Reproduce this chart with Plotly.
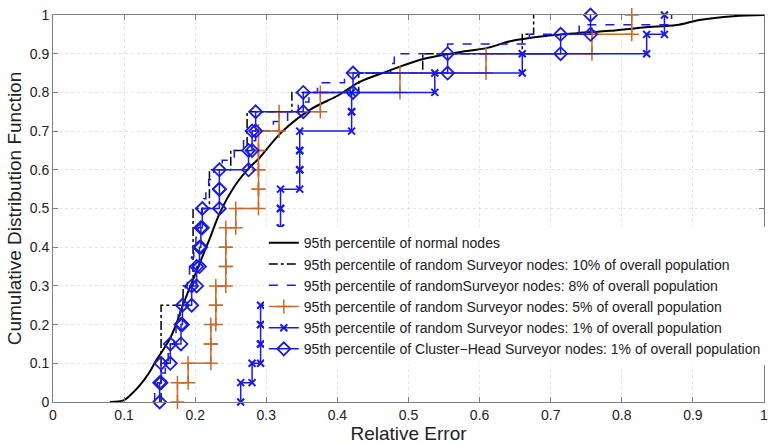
import plotly.graph_objects as go

# ---------------- data ----------------
normal_x = [0.08, 0.10, 0.11, 0.122, 0.135, 0.145, 0.155, 0.164, 0.173, 0.182, 0.20, 0.22,
            0.235, 0.257, 0.276, 0.29, 0.322, 0.364, 0.401, 0.43, 0.471, 0.518, 0.565,
            0.611, 0.643, 0.69, 0.737, 0.783, 0.83, 0.877, 0.909, 0.957, 1.0]
normal_y = [0.0, 0.005, 0.02, 0.043, 0.075, 0.107, 0.135, 0.162, 0.20, 0.247, 0.33, 0.42,
            0.49, 0.562, 0.605, 0.63, 0.698, 0.758, 0.792, 0.826, 0.855, 0.885, 0.902,
            0.915, 0.932, 0.945, 0.953, 0.959, 0.968, 0.974, 0.987, 0.997, 1.0]

surveyor_10 = [0.152, 0.152, 0.152, 0.152, 0.152, 0.183, 0.197, 0.197, 0.197, 0.197,
               0.220, 0.220, 0.250, 0.273, 0.273, 0.336, 0.430, 0.520, 0.660, 0.676]

surveyor_8 = [0.143, 0.147, 0.152, 0.158, 0.162, 0.165, 0.170, 0.173, 0.176, 0.179,
              0.183, 0.186, 0.189, 0.192, 0.195, 0.198, 0.201, 0.204, 0.207, 0.209,
              0.212, 0.215, 0.219, 0.226, 0.238, 0.255, 0.268, 0.285, 0.310, 0.330,
              0.345, 0.360, 0.372, 0.410, 0.475, 0.480, 0.555, 0.670, 0.740, 0.870]

surveyor_5 = [0.175, 0.190, 0.222, 0.222, 0.229, 0.229, 0.243, 0.243, 0.243, 0.257,
              0.289, 0.289, 0.289, 0.289, 0.318, 0.376, 0.488, 0.609, 0.758, 0.814]

surveyor_1 = [0.264, 0.280, 0.292, 0.292, 0.292, 0.320, 0.320, 0.320, 0.320, 0.320,
              0.320, 0.347, 0.347, 0.347, 0.420, 0.420, 0.537, 0.660, 0.835, 0.860]

cluster_head_1 = [0.150, 0.152, 0.165, 0.180, 0.182, 0.195, 0.202, 0.206, 0.208, 0.210,
                  0.234, 0.234, 0.275, 0.280, 0.285, 0.352, 0.422, 0.555, 0.714, 0.756]

names = [
    "95th percentile of normal nodes",
    "95th percentile of random Surveyor nodes: 10% of overall population",
    "95th percentile of randomSurveyor nodes: 8% of overall population",
    "95th percentile of random Surveyor nodes: 5% of overall population",
    "95th percentile of random Surveyor nodes: 1% of overall population",
    "95th percentile of Cluster\u2212Head Surveyor nodes: 1% of overall population",
]

x_ticks = [0, 0.1, 0.2, 0.3, 0.4, 0.5, 0.6, 0.7, 0.8, 0.9, 1]
x_tick_labels = ["0", "0.1", "0.2", "0.3", "0.4", "0.5", "0.6", "0.7", "0.8", "0.9", "1"]
y_ticks = x_ticks
y_tick_labels = x_tick_labels


def cdf_stairs(samples):
    """Empirical CDF as stair vertices (like MATLAB cdfplot)."""
    s = sorted(samples)
    n = len(s)
    xs, ys = [], []
    for i, v in enumerate(s):
        xs += [v, v]
        ys += [i / n, (i + 1) / n]
    return xs, ys


FONT = "Liberation Sans, Arial, Helvetica, sans-serif"
BLUE = "#1a1ae6"
ORANGE = "#c96a2a"

fig = go.Figure()

fig.add_trace(go.Scatter(x=normal_x, y=normal_y, mode="lines", name=names[0],
                         line=dict(color="black", width=2), line_shape="spline"))

x10, y10 = cdf_stairs(surveyor_10)
fig.add_trace(go.Scatter(x=x10, y=y10, mode="lines", name=names[1],
                         line=dict(color="black", width=1.5, dash="dashdot")))

x8, y8 = cdf_stairs(surveyor_8)
fig.add_trace(go.Scatter(x=x8, y=y8, mode="lines", name=names[2],
                         line=dict(color=BLUE, width=1.5, dash="dash")))

x5, y5 = cdf_stairs(surveyor_5)
fig.add_trace(go.Scatter(x=x5, y=y5, mode="lines+markers", name=names[3],
                         line=dict(color=ORANGE, width=1.5),
                         marker=dict(symbol="cross-thin-open", size=10,
                                     line=dict(color=ORANGE, width=1.5)),
                         cliponaxis=False))

x1, y1 = cdf_stairs(surveyor_1)
fig.add_trace(go.Scatter(x=x1, y=y1, mode="lines+markers", name=names[4],
                         line=dict(color=BLUE, width=1.5),
                         marker=dict(symbol="x-thin-open", size=7,
                                     line=dict(color=BLUE, width=2)),
                         cliponaxis=False))

xc, yc = cdf_stairs(cluster_head_1)
fig.add_trace(go.Scatter(x=xc, y=yc, mode="lines+markers", name=names[5],
                         line=dict(color=BLUE, width=1.5),
                         marker=dict(symbol="diamond-open", size=10,
                                     line=dict(color=BLUE, width=1.8)),
                         cliponaxis=False))

axis_common = dict(
    range=[0, 1], showline=True, linecolor="#7f7f7f", linewidth=1, mirror="ticks",
    ticks="inside", ticklen=5, tickcolor="#7f7f7f", showgrid=True,
    gridcolor="#e4e4e4", griddash="dot", gridwidth=1, zeroline=False,
    tickfont=dict(family=FONT, size=14, color="#222222"),
)

fig.update_layout(
    width=775, height=444,
    margin=dict(l=53, r=7, t=15, b=37),
    paper_bgcolor="white", plot_bgcolor="white",
    font=dict(family=FONT, color="#222222"),
    xaxis=dict(axis_common, tickvals=x_ticks, ticktext=x_tick_labels,
               title=dict(text="Relative Error", font=dict(family=FONT, size=19), standoff=1)),
    yaxis=dict(axis_common, tickvals=y_ticks, ticktext=y_tick_labels,
               title=dict(text="Cumulative Distribution Function", font=dict(family=FONT, size=19), standoff=3)),
    legend=dict(x=0.2965, y=0.4515, xanchor="left", yanchor="top",
                bgcolor="white", borderwidth=0, tracegroupgap=0,
                font=dict(family=FONT, size=14, color="#222222")),
    showlegend=True,
)

fig.write_html("out.html")
